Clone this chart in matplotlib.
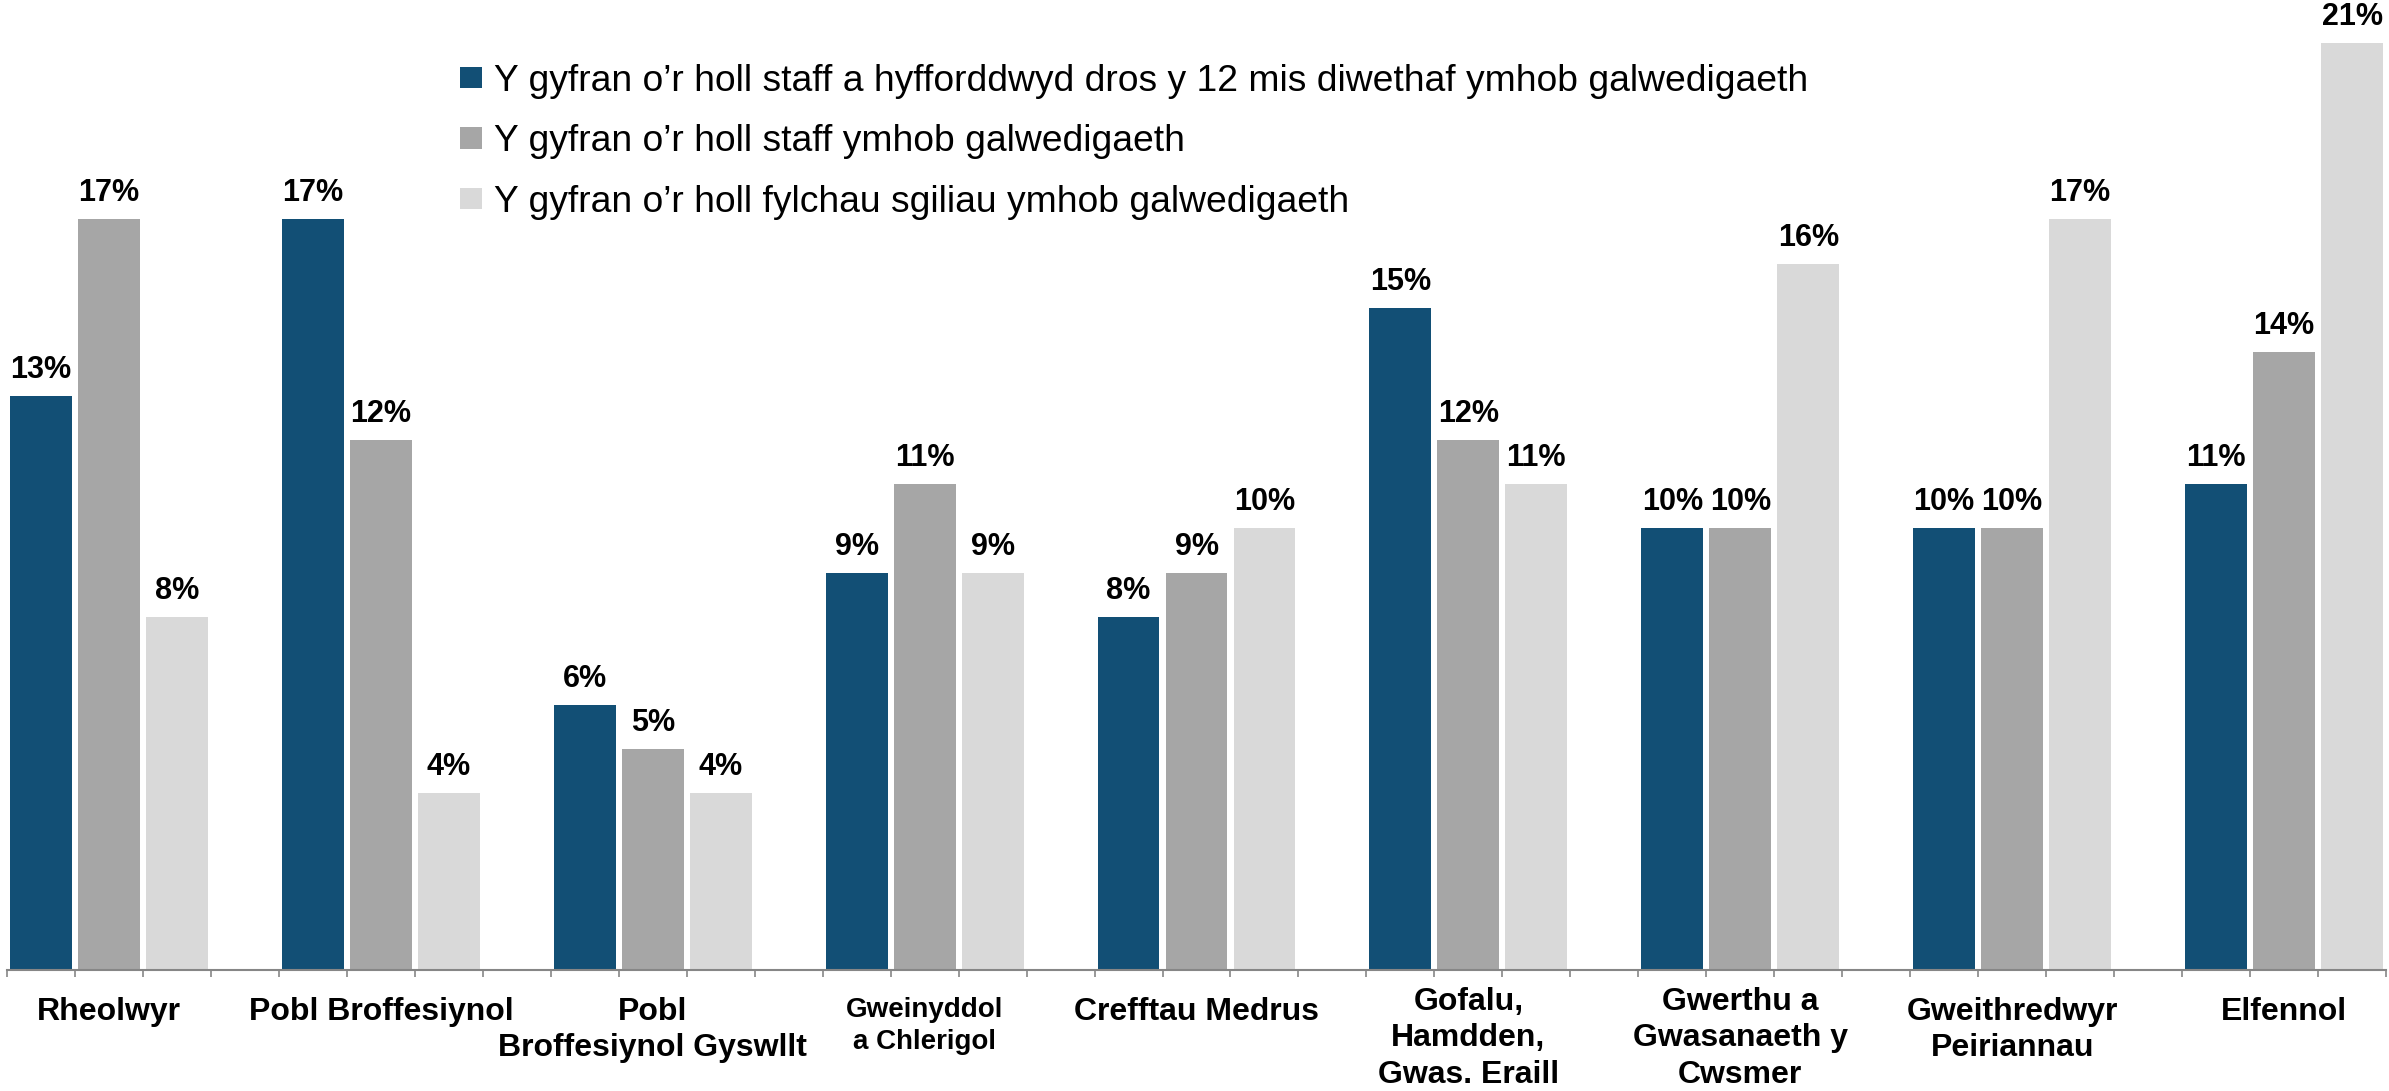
import matplotlib
matplotlib.use("Agg")
import matplotlib.pyplot as plt
import matplotlib.transforms as mtransforms
import numpy as np
from matplotlib.patches import Patch

plt.rcParams["font.family"] = ["Liberation Sans", "DejaVu Sans"]

categories = [
    "Rheolwyr",
    "Pobl Broffesiynol",
    "Pobl\nBroffesiynol Gyswllt",
    "Gweinyddol\na Chlerigol",
    "Crefftau Medrus",
    "Gofalu,\nHamdden,\nGwas. Eraill",
    "Gwerthu a\nGwasanaeth y\nCwsmer",
    "Gweithredwyr\nPeiriannau",
    "Elfennol",
]
trained_share = [13, 17, 6, 9, 8, 15, 10, 10, 11]
staff_share = [17, 12, 5, 11, 9, 12, 10, 10, 14]
gap_share = [8, 4, 4, 9, 10, 11, 16, 17, 21]

series_labels = [
    "Y gyfran o\u2019r holl staff a hyfforddwyd dros y 12 mis diwethaf ymhob galwedigaeth",
    "Y gyfran o\u2019r holl staff ymhob galwedigaeth",
    "Y gyfran o\u2019r holl fylchau sgiliau ymhob galwedigaeth",
]
colors = ["#124F75", "#A6A6A6", "#D9D9D9"]

W, H = 2389, 1091
DPI = 100
fig = plt.figure(figsize=(W / DPI, H / DPI), dpi=DPI)
ax = fig.add_axes([7 / W, (H - 970) / H, (2386 - 7) / W, 970 / H])

n = len(categories)
slots = 4
group_x = np.arange(n) * slots
bar_w = 0.91

for i, (vals, col) in enumerate(zip([trained_share, staff_share, gap_share], colors)):
    xs = group_x + i
    ax.bar(xs, vals, width=bar_w, color=col, zorder=2)
    for x, v in zip(xs, vals):
        ax.annotate(f"{v}%", (x, v), xytext=(0, 13), textcoords="offset points",
                    ha="center", va="baseline", fontsize=22, fontweight="bold")

ax.set_xlim(-0.5, (n - 1) * slots + 2.5)
ax.set_ylim(0, 21.97)

# slot boundary ticks
ax.set_xticks(np.arange(-0.5, (n - 1) * slots + 3, 1.0))
ax.tick_params(axis="x", which="major", length=5, width=1.2, color="#868686", labelbottom=False)

# category labels below the axis; three-line labels sit a little higher
base = ax.get_xaxis_transform()
for x, label in zip(group_x + 1, categories):
    nlines = label.count("\n") + 1
    drop = 17 if nlines == 3 else 27
    size = 20 if label.startswith("Gweinyddol") else 23
    tr = base + mtransforms.ScaledTranslation(0, -drop / DPI, fig.dpi_scale_trans)
    ax.text(x, 0, label, transform=tr, ha="center", va="top", fontsize=size,
            fontweight="bold", linespacing=1.28, multialignment="center")

ax.set_yticks([])
for side in ["left", "right", "top"]:
    ax.spines[side].set_visible(False)
ax.spines["bottom"].set_color("#868686")
ax.spines["bottom"].set_linewidth(1.5)

handles = [Patch(facecolor=c, edgecolor="none") for c in colors]
ax.legend(handles, series_labels, loc="upper left", bbox_to_anchor=(460 / W, 1 - 64 / H),
          bbox_transform=fig.transFigure, frameon=False, fontsize=26.8,
          handlelength=0.6, handleheight=0.5, handletextpad=0.3,
          labelspacing=0.68, borderpad=0, borderaxespad=0)

fig.savefig("out.png", dpi=DPI)
